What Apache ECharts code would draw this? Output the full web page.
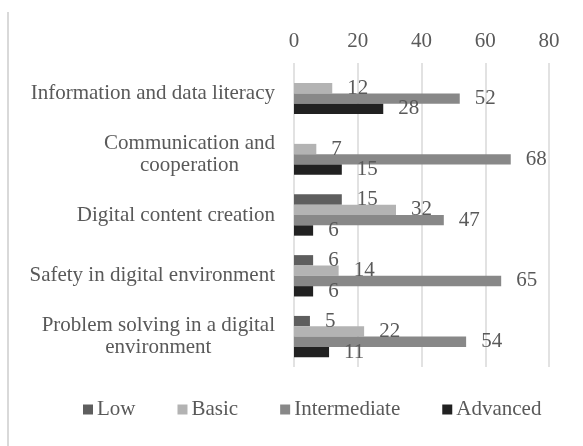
<!DOCTYPE html>
<html>
<head>
<meta charset="utf-8">
<script src="https://cdn.jsdelivr.net/npm/echarts@6/dist/echarts.min.js"></script>
<style>html,body{margin:0;padding:0;background:#fff}#c{width:583px;height:446px}</style>
</head>
<body>
<div id="c"></div>
<script>
const categories = [
  "Information and data literacy",
  "Communication and\ncooperation",
  "Digital content creation",
  "Safety in digital environment",
  "Problem solving in a digital\nenvironment"
];
const seriesNames = ["Low", "Basic", "Intermediate", "Advanced"];
const low = [null, null, 15, 6, 5];
const basic = [12, 7, 32, 14, 22];
const intermediate = [52, 68, 47, 65, 54];
const advanced = [28, 15, 6, 6, 11];
const xTicks = [0, 20, 40, 60, 80];

const FONT = "Liberation Serif";
const TXT = "#595959";
const colors = ["#5e5e5e", "#b3b3b3", "#888888", "#212121"];
const values = [low, basic, intermediate, advanced];

const chart = echarts.init(document.getElementById('c'), null, {renderer: 'canvas'});
chart.setOption({
  animation: false,
  backgroundColor: '#fff',
  graphic: [{type: 'rect', shape: {x: 7, y: 12, width: 2, height: 440}, style: {fill: '#d9d9d9'}, silent: true}],
  grid: {left: 294, right: 34, top: 63, bottom: 79, containLabel: false},
  legend: {
    data: seriesNames,
    left: 78, top: 394,
    itemWidth: 10, itemHeight: 10, itemGap: 42,
    icon: 'rect',
    textStyle: {fontFamily: FONT, fontSize: 21, color: TXT, padding: [0, 0, 0, -1]}
  },
  xAxis: {
    type: 'value', position: 'top',
    min: xTicks[0], max: xTicks[xTicks.length - 1], interval: 20,
    axisLine: {show: false}, axisTick: {show: false},
    splitLine: {show: true, lineStyle: {color: '#d9d9d9', width: 1.5}},
    axisLabel: {fontFamily: FONT, fontSize: 21, color: TXT, margin: 11}
  },
  yAxis: {
    type: 'category', inverse: true, data: categories,
    axisLine: {show: false}, axisTick: {show: false},
    axisLabel: {
      margin: 19,
      formatter: v => v.split('\n').map(l => '{c|' + l + '}').join('\n'),
      rich: {c: {align: 'center', fontFamily: FONT, fontSize: 21, color: TXT, lineHeight: 22}}
    }
  },
  series: seriesNames.map((n, i) => ({
    name: n, type: 'bar', data: values[i],
    barGap: '0%', barCategoryGap: '32%',
    itemStyle: {color: colors[i]},
    label: {show: true, position: 'right', distance: 15, fontFamily: FONT, fontSize: 21, color: TXT}
  }))
});
</script>
</body>
</html>
